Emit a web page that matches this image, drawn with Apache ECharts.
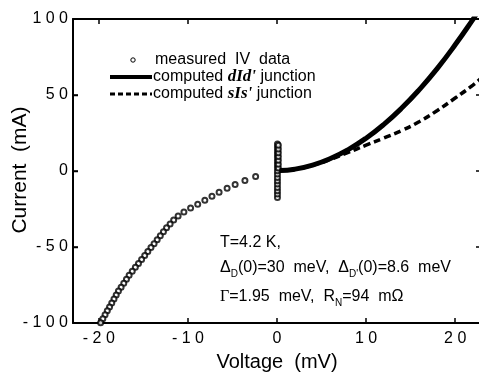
<!DOCTYPE html>
<html>
<head>
<meta charset="utf-8">
<script src="https://cdn.jsdelivr.net/npm/echarts@6/dist/echarts.min.js"></script>
<style>
html,body{margin:0;padding:0;background:#fff;}
#chart{width:479px;height:380px;}
</style>
</head>
<body>
<div id="chart"></div>
<script>
// ---- data ----
const xTicks = [-20, -10, 0, 10, 20];
const yTicks = [-100, -50, 0, 50, 100];

// measured IV data, negative branch (V in mV, I in mA)
const measuredV = [-2.4, -3.6, -4.7, -5.6, -6.5, -7.3, -8.1, -8.9, -9.7, -10.45, -11.1, -11.6, -12.0, -12.4, -12.75, -13.1, -13.45, -13.8, -14.15, -14.5, -14.85, -15.2, -15.55, -15.9, -16.25, -16.6, -16.9, -17.2, -17.5, -17.8, -18.05, -18.3, -18.55, -18.8, -19.05, -19.3, -19.55, -19.8];
const measuredI = [-3.6, -6.2, -8.8, -11.4, -14.0, -16.6, -19.2, -21.8, -24.4, -27.0, -29.6, -32.2, -34.8, -37.4, -40.0, -42.6, -45.2, -47.8, -50.4, -53.0, -55.6, -58.2, -60.8, -63.4, -66.0, -68.6, -71.2, -73.8, -76.4, -79.0, -81.6, -84.2, -86.8, -89.4, -92.0, -94.6, -97.2, -99.8];

// measured IV data, supercurrent branch near zero voltage
const columnV = [0.05, 0.05, 0.05, 0.05, 0.05, 0.05, 0.05, 0.05, 0.05, 0.05, 0.05, 0.05, 0.05, 0.05, 0.05, 0.05, 0.05, 0.15, 0.15, 0.15, 0.15, 0.15, 0.15, 0.15];
const columnI = [-17.4, -15.2, -13.0, -10.8, -8.6, -6.4, -4.2, -2.0, 0.2, 2.4, 4.6, 6.8, 9.0, 11.2, 13.4, 15.6, 17.8, 2.0, 4.5, 7.0, 9.5, 12.0, 14.5, 17.0];

// computed dId' junction
const dIdV = [0.3, 2, 4, 6, 8, 10, 12, 14, 16, 18, 20, 22, 22.4];
const dIdI = [0.3, 1.2, 3.9, 8.2, 14.1, 21.6, 30.7, 41.4, 53.7, 67.5, 83.0, 99.8, 103.5];

// computed sIs' junction
const sIsV = [0.3, 2, 4, 6, 8, 10, 12, 14, 16, 18, 20, 22, 22.9];
const sIsI = [0.3, 1.2, 3.8, 7.6, 12.2, 17.0, 21.7, 26.6, 32.6, 39.8, 48.0, 56.5, 61.0];

const legendLabels = ['measured  IV  data', "computed {i|dId'} junction", "computed {i|sIs'} junction"];

// ---- build ----
const zip = (a, b) => a.map((v, i) => [v, b[i]]);
const spaced = v => String(v).split('').join(' ');
const font = 'Liberation Sans, Arial, sans-serif';
const serif = 'Liberation Serif, Times New Roman, serif';

const GRID_LEFT = 73, GRID_TOP = 19, GRID_BOTTOM = 57, H = 380;
const plotBottom = H - GRID_BOTTOM;

const chart = echarts.init(document.getElementById('chart'), null, {renderer: 'canvas'});

const axLine = () => ({show: true, onZero: false, lineStyle: {color: '#000', width: 2}});
const tick = (extra) => Object.assign({show: true, inside: true, length: 5, lineStyle: {color: '#000', width: 1.5}}, extra || {});

chart.setOption({
  animation: false,
  grid: {left: GRID_LEFT, right: -2, top: GRID_TOP, bottom: GRID_BOTTOM, containLabel: false, outerBoundsMode: 'none'},
  xAxis: [{
    type: 'value', min: -22.9, max: 22.9, position: 'bottom',
    axisLine: axLine(),
    axisTick: tick({customValues: xTicks}),
    axisLabel: {customValues: xTicks, formatter: spaced, color: '#000', fontSize: 16, fontFamily: font, margin: 8},
    splitLine: {show: false},
    name: 'Voltage  (mV)', nameLocation: 'middle', nameGap: 29,
    nameTextStyle: {color: '#000', fontSize: 20, fontFamily: font}
  }, {
    type: 'value', min: -22.9, max: 22.9, position: 'top',
    axisLine: axLine(),
    axisTick: tick({customValues: xTicks}),
    axisLabel: {show: false},
    splitLine: {show: false}
  }],
  yAxis: [{
    type: 'value', min: -100, max: 100, interval: 50, position: 'left',
    axisLine: axLine(),
    axisTick: tick(),
    axisLabel: {formatter: spaced, color: '#000', fontSize: 16, fontFamily: font, margin: 5},
    splitLine: {show: false}
  }, {
    type: 'value', min: -100, max: 100, interval: 50, position: 'right',
    axisLine: axLine(),
    axisTick: tick(),
    axisLabel: {show: false},
    splitLine: {show: false}
  }],
  series: [{
    name: 'measured', type: 'scatter', xAxisIndex: 0, yAxisIndex: 0,
    data: zip(measuredV, measuredI).concat(zip(columnV, columnI)),
    symbol: 'emptyCircle', symbolSize: 5,
    itemStyle: {color: '#000', borderColor: '#000', borderWidth: 1},
    z: 2
  }, {
    name: 'sIs', type: 'line', xAxisIndex: 0, yAxisIndex: 0,
    data: zip(sIsV, sIsI), smooth: true, showSymbol: false, symbol: 'none',
    lineStyle: {color: '#000', width: 3.5, type: [7, 4]}, z: 3
  }, {
    name: 'dId', type: 'line', xAxisIndex: 0, yAxisIndex: 0,
    data: zip(dIdV, dIdI), smooth: true, showSymbol: false, symbol: 'none',
    lineStyle: {color: '#000', width: 5}, z: 4
  }]
});

// left axis frame line and inner ticks (decoration), placed from the grid edges
const tickY = v => GRID_TOP + (100 - v) / 200 * (plotBottom - GRID_TOP);
const leftFrame = [{type: 'line', z: 100, shape: {x1: GRID_LEFT, y1: GRID_TOP, x2: GRID_LEFT, y2: plotBottom}, style: {stroke: '#000', lineWidth: 2}}]
  .concat(yTicks.filter(v => Math.abs(v) < 100).map(v => ({
    type: 'line', z: 100,
    shape: {x1: GRID_LEFT, y1: Math.round(tickY(v)) + 0.5, x2: GRID_LEFT + 5, y2: Math.round(tickY(v)) + 0.5},
    style: {stroke: '#000', lineWidth: 1.5}
  })));

chart.setOption({
  graphic: [
    {type: 'text', x: 20, y: 170, rotation: Math.PI / 2, z: 100,
      style: {text: 'Current  (mA)', font: '21px ' + font, fill: '#000', align: 'center', verticalAlign: 'middle'}},
    {type: 'circle', z: 100, shape: {cx: 133, cy: 60, r: 2.2}, style: {fill: '#fff', stroke: '#000', lineWidth: 1}},
    {type: 'text', z: 100, x: 155, y: 60, style: {text: legendLabels[0], font: '16px ' + font, fill: '#000', verticalAlign: 'middle'}},
    {type: 'line', z: 100, shape: {x1: 110, y1: 77, x2: 152, y2: 77}, style: {stroke: '#000', lineWidth: 4}},
    {type: 'text', z: 100, x: 153, y: 77, style: {text: legendLabels[1], font: '16px ' + font, fill: '#000', verticalAlign: 'middle',
      rich: {i: {fontFamily: serif, fontStyle: 'italic', fontWeight: 'bold', fontSize: 17}}}},
    {type: 'line', z: 100, shape: {x1: 110, y1: 94, x2: 152, y2: 94}, style: {stroke: '#000', lineWidth: 3, lineDash: [5, 3]}},
    {type: 'text', z: 100, x: 153, y: 94, style: {text: legendLabels[2], font: '16px ' + font, fill: '#000', verticalAlign: 'middle',
      rich: {i: {fontFamily: serif, fontStyle: 'italic', fontWeight: 'bold', fontSize: 17}}}},
    {type: 'text', z: 100, x: 220, y: 243, style: {text: 'T=4.2 K,', font: '16px ' + font, fill: '#000', verticalAlign: 'middle'}},
    {type: 'text', z: 100, x: 220, y: 268, style: {text: "Δ{s|D}(0)=30  meV,  Δ{s|D'}(0)=8.6  meV", font: '16px ' + font, fill: '#000', verticalAlign: 'middle',
      rich: {s: {fontSize: 10, fontFamily: font, padding: [12, 0, 0, 0]}}}},
    {type: 'text', z: 100, x: 220, y: 297, style: {text: "{g|Γ}=1.95  meV,  R{s|N}=94  mΩ", font: '16px ' + font, fill: '#000', verticalAlign: 'middle',
      rich: {s: {fontSize: 10, fontFamily: font, padding: [12, 0, 0, 0]}, g: {fontSize: 16, fontFamily: serif}}}}
  ].concat(leftFrame)
});
</script>
</body>
</html>
